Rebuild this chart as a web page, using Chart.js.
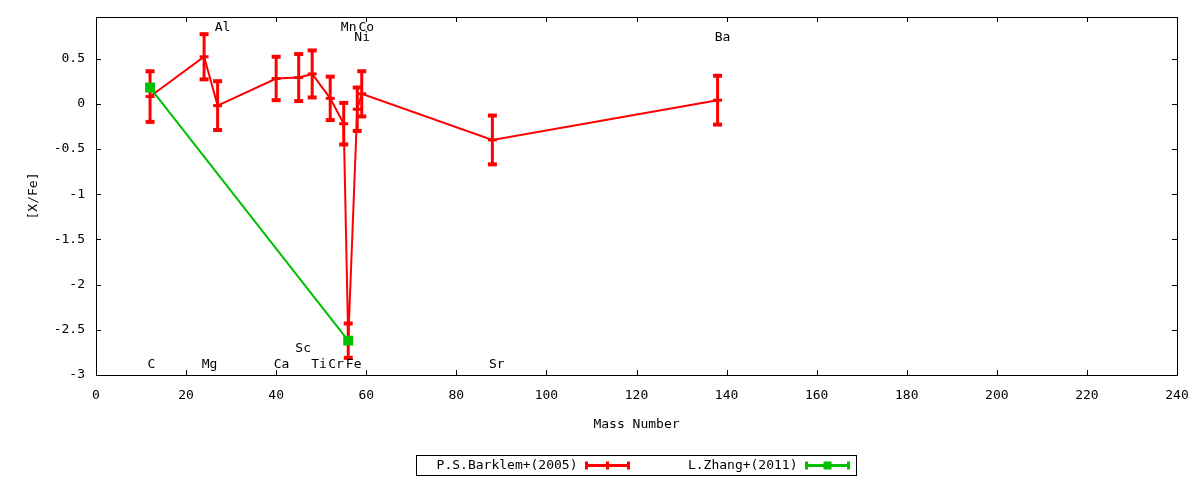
<!DOCTYPE html>
<html>
<head>
<meta charset="utf-8">
<script src="https://cdn.jsdelivr.net/npm/chart.js@4.4.1/dist/chart.umd.min.js"></script>
<style>
  html, body { margin: 0; padding: 0; background: #fff; }
  #wrap { width: 1200px; height: 480px; }
</style>
</head>
<body>
<div id="wrap"><canvas id="abundChart"></canvas></div>
<script>
// element abundances vs mass number
const elements = ['C', 'Mg', 'Al', 'Ca', 'Sc', 'Ti', 'Cr', 'Mn', 'Fe', 'Ni', 'Co', 'Sr', 'Ba'];
const massNumber = [12, 24, 27, 40, 45, 48, 52, 55, 56, 58, 59, 88, 138];
const barklemXFe = [0.08, 0.52, -0.02, 0.28, 0.29, 0.33, 0.06, -0.22, -2.62, -0.06, 0.11, -0.40, 0.04];
const barklemErr = [0.28, 0.25, 0.27, 0.24, 0.26, 0.26, 0.24, 0.23, 0.19, 0.24, 0.25, 0.27, 0.27];
// where the element names sit (data units)
const labelX = [12.3, 25.2, 28.1, 41.2, 46.0, 49.5, 53.3, 56.1, 57.2, 59.1, 60.0, 89.0, 139.1];
const labelY = [-2.88, -2.88, 0.84, -2.88, -2.71, -2.88, -2.88, 0.84, -2.88, 0.73, 0.84, -2.88, 0.73];

const zhangMass = [12, 56];
const zhangXFe = [0.18, -2.62];

const xTicks = [0, 20, 40, 60, 80, 100, 120, 140, 160, 180, 200, 220, 240];
const yTicks = [-3, -2.5, -2, -1.5, -1, -0.5, 0, 0.5];

const seriesNames = ['P.S.Barklem+(2005)', 'L.Zhang+(2011)'];
const RED = '#ff0000';
const GREEN = '#00c000';
const FONT = '13px "DejaVu Sans Mono"';

Chart.defaults.font.family = '"DejaVu Sans Mono"';
Chart.defaults.font.size = 13;
Chart.defaults.color = '#000';

function errCap(ctx, x, y) {
  ctx.beginPath();
  ctx.moveTo(x - 4.5, y);
  ctx.lineTo(x + 4.5, y);
  ctx.stroke();
}

// error bars, drawn right after the Barklem line so the green set stays on top
const errorBars = {
  id: 'errorBars',
  afterDatasetDraw(chart, args) {
    if (args.index !== 0) return;
    const {ctx, scales: {x, y}} = chart;
    ctx.save();
    ctx.strokeStyle = RED;
    massNumber.forEach((m, i) => {
      const px = x.getPixelForValue(m);
      const top = y.getPixelForValue(barklemXFe[i] + barklemErr[i]);
      const bot = y.getPixelForValue(barklemXFe[i] - barklemErr[i]);
      ctx.lineWidth = 3;
      ctx.beginPath();
      ctx.moveTo(px, top);
      ctx.lineTo(px, bot);
      ctx.stroke();
      ctx.lineWidth = 4;
      errCap(ctx, px, top);
      errCap(ctx, px, bot);
    });
    ctx.restore();
  }
};

// frame, inward ticks, element names and the boxed key
const decorations = {
  id: 'decorations',
  afterDraw(chart) {
    const {ctx, chartArea: a, scales: {x, y}} = chart;
    ctx.save();
    ctx.strokeStyle = '#000';
    ctx.lineWidth = 1;
    ctx.strokeRect(a.left + 0.5, a.top + 0.5, a.right - a.left, a.bottom - a.top);
    ctx.beginPath();
    xTicks.forEach(v => {
      const px = Math.round(x.getPixelForValue(v)) + 0.5;
      ctx.moveTo(px, a.bottom); ctx.lineTo(px, a.bottom - 5);
      ctx.moveTo(px, a.top); ctx.lineTo(px, a.top + 5);
    });
    yTicks.forEach(v => {
      const py = Math.round(y.getPixelForValue(v)) + 0.5;
      ctx.moveTo(a.left, py); ctx.lineTo(a.left + 5, py);
      ctx.moveTo(a.right, py); ctx.lineTo(a.right - 5, py);
    });
    ctx.stroke();

    ctx.fillStyle = '#000';
    ctx.font = FONT;
    ctx.textAlign = 'center';
    ctx.textBaseline = 'middle';
    elements.forEach((el, i) => {
      ctx.fillText(el, x.getPixelForValue(labelX[i]), y.getPixelForValue(labelY[i]));
    });

    // key box
    const boxW = 440, boxH = 20;
    const cx = (a.left + a.right) / 2;
    const bx = Math.round(cx - boxW / 2) - 0.5, by = 455.5;
    ctx.strokeRect(bx, by, boxW, boxH);
    const cy = by + boxH / 2;
    const colors = [RED, GREEN];
    seriesNames.forEach((name, i) => {
      const ex = bx + i * (boxW / 2);
      ctx.fillStyle = '#000';
      ctx.textAlign = 'right';
      ctx.fillText(name, ex + 161, cy);
      const x0 = ex + 170, x1 = ex + 212;
      ctx.strokeStyle = colors[i];
      ctx.lineWidth = 3;
      ctx.beginPath();
      ctx.moveTo(x0, cy); ctx.lineTo(x1, cy);
      ctx.moveTo(x0, cy - 4); ctx.lineTo(x0, cy + 4);
      ctx.moveTo(x1, cy - 4); ctx.lineTo(x1, cy + 4);
      ctx.stroke();
      const mx = (x0 + x1) / 2;
      if (i === 0) {
        ctx.beginPath();
        ctx.moveTo(mx, cy - 4); ctx.lineTo(mx, cy + 4);
        ctx.stroke();
      } else {
        ctx.fillStyle = GREEN;
        ctx.fillRect(mx - 4, cy - 4, 8, 8);
      }
      ctx.strokeStyle = '#000';
      ctx.lineWidth = 1;
    });
    ctx.restore();
  }
};

new Chart(document.getElementById('abundChart'), {
  type: 'scatter',
  data: {
    datasets: [{
      label: seriesNames[0],
      data: massNumber.map((m, i) => ({x: m, y: barklemXFe[i]})),
      showLine: true,
      borderColor: RED,
      backgroundColor: RED,
      borderWidth: 2,
      pointStyle: 'line',
      pointRadius: 4.5,
      pointBorderWidth: 3,
      pointBorderColor: RED,
      order: 1
    }, {
      label: seriesNames[1],
      data: zhangMass.map((m, i) => ({x: m, y: zhangXFe[i]})),
      showLine: true,
      borderColor: GREEN,
      backgroundColor: GREEN,
      borderWidth: 2,
      pointStyle: 'rect',
      pointRadius: 7,
      pointBorderWidth: 0,
      order: 0
    }]
  },
  options: {
    responsive: true,
    maintainAspectRatio: false,
    animation: false,
    layout: { padding: { top: 17, right: 23, bottom: 0, left: 0 } },
    plugins: { legend: { display: false }, tooltip: { enabled: false } },
    scales: {
      x: {
        type: 'linear', min: 0, max: 240,
        grid: { display: false, drawTicks: false },
        border: { display: false },
        afterBuildTicks: s => { s.ticks = xTicks.map(v => ({value: v})); },
        afterFit: s => { s.height = 105; s.paddingLeft = 0; s.paddingRight = 0; },
        ticks: { padding: 13, maxRotation: 0, callback: v => String(v) },
        title: { display: true, text: 'Mass Number', padding: { bottom: 48 } }
      },
      y: {
        type: 'linear', min: -3, max: 0.96,
        grid: { display: false, drawTicks: false },
        border: { display: false },
        afterBuildTicks: s => { s.ticks = yTicks.map(v => ({value: v})); },
        afterFit: s => { s.width = 96; s.paddingTop = 0; s.paddingBottom = 0; },
        ticks: { padding: 11, callback: v => String(v) },
        title: { display: true, text: '[X/Fe]', padding: { top: 26 } }
      }
    }
  },
  plugins: [errorBars, decorations]
});
</script>
</body>
</html>
